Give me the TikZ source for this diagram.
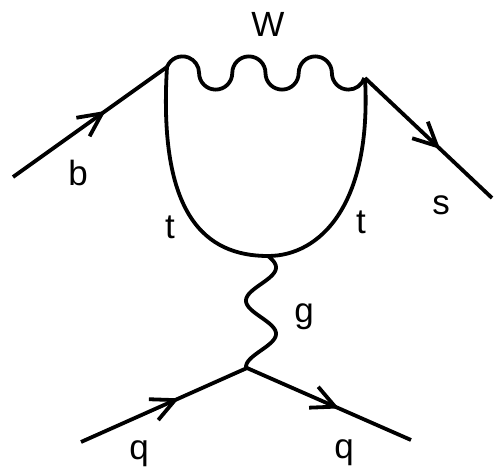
\documentclass[tikz,border=0pt]{standalone}
\usepackage{fontspec}
\setmainfont{Liberation Sans}
\usetikzlibrary{decorations.markings}
\tikzset{
  ln/.style={line width=3.8pt},
  fermion/.style={ln, postaction={decorate, decoration={markings,
      mark=at position #1 with {\draw[line width=3.8pt, line join=miter]
        (-23.4pt,11.4pt) -- (0pt,0pt) -- (-23.4pt,-11.4pt);}}}},
  lbl/.style={font=\fontsize{35}{42}\selectfont, anchor=base, inner sep=0pt}
}
\begin{document}
\begin{tikzpicture}[x=1pt,y=1pt]
\useasboundingbox (0,0) rectangle (496,467);
% vertices and ends
\coordinate (V1) at (167,400);
\coordinate (V2) at (365,389);
\coordinate (Vb) at (268,211);
\coordinate (V3) at (247,99);
\coordinate (bs) at (13,290);
\coordinate (se) at (492,269);
\coordinate (q1) at (81,25);
\coordinate (q2) at (411,27);
% external fermions
\draw[fermion=0.578] (bs) -- (V1);
\draw[fermion=0.567] (V2) -- (se);
\draw[fermion=0.566] (q1) -- (V3);
\draw[fermion=0.537] (V3) -- (q2);
% top loop
\draw[ln] (V1) .. controls (158,252) and (205,211) .. (Vb)
          .. controls (320,211) and (372,262) .. (V2);
% W boson
\draw[ln] (V1) arc[start angle=158.8, end angle=0, radius=16.6]
  arc[start angle=180, end angle=360, radius=16.6]
  arc[start angle=180, end angle=0, radius=16.6]
  arc[start angle=180, end angle=360, radius=16.6]
  arc[start angle=180, end angle=0, radius=16.6]
  arc[start angle=180, end angle=342.5, radius=16.6];
% gluon
\draw[ln] (Vb) -- plot[domain=256:367, samples=120, smooth]
  ({261+15*sin(27.8+(\x-256)*5.425)}, {467-\x}) -- (V3);
% labels
\node[lbl] (lW) at (268,430) {W};
\node[lbl] (lb) at (78,282) {b};
\node[lbl] (ls) at (441,253) {s};
\node[lbl] (lt1) at (170,229) {t};
\node[lbl] (lt2) at (361,234) {t};
\node[lbl] (lg) at (304,145) {g};
\node[lbl] (lq1) at (139,8) {q};
\node[lbl] (lq2) at (344,9) {q};
\end{tikzpicture}
\end{document}
